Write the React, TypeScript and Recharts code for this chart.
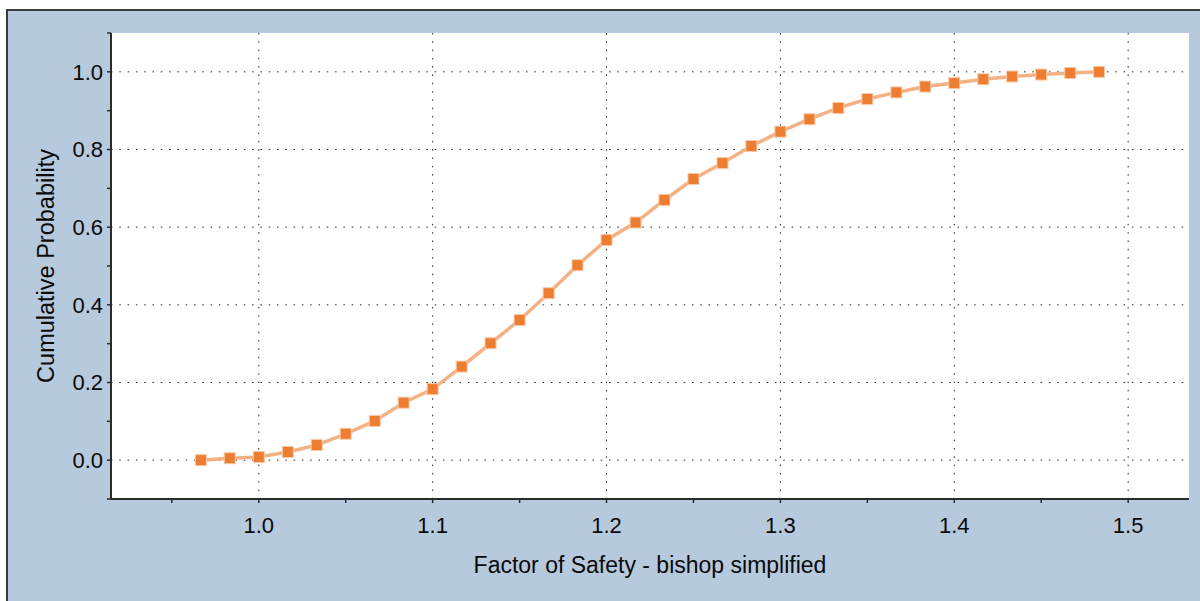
import { LineChart, Line, XAxis, YAxis, CartesianGrid } from 'recharts';

// factor of safety samples (every 1/60) and their cumulative probability
const fosValues = [
  0.9667, 0.9833, 1.0, 1.0167, 1.0333, 1.05, 1.0667, 1.0833,
  1.1, 1.1167, 1.1333, 1.15, 1.1667, 1.1833, 1.2, 1.2167,
  1.2333, 1.25, 1.2667, 1.2833, 1.3, 1.3167, 1.3333, 1.35,
  1.3667, 1.3833, 1.4, 1.4167, 1.4333, 1.45, 1.4667, 1.4833,
];
const cumProb = [
  0.0, 0.005, 0.008, 0.021, 0.039, 0.068, 0.101, 0.148,
  0.183, 0.241, 0.301, 0.361, 0.43, 0.502, 0.567, 0.612,
  0.67, 0.724, 0.765, 0.809, 0.846, 0.878, 0.907, 0.93,
  0.947, 0.962, 0.971, 0.981, 0.988, 0.993, 0.997, 1.0,
];

const xTicks = [0.95, 1.0, 1.05, 1.1, 1.15, 1.2, 1.25, 1.3, 1.35, 1.4, 1.45, 1.5];
const xGrid = [1.0, 1.1, 1.2, 1.3, 1.4, 1.5];
const yTicks = [-0.1, 0, 0.1, 0.2, 0.3, 0.4, 0.5, 0.6, 0.7, 0.8, 0.9, 1.0, 1.1];
const yGrid = [0, 0.2, 0.4, 0.6, 0.8, 1.0];

const data = fosValues.map((fos, i) => ({ fos, p: cumProb[i] }));

const FONT = '"Liberation Sans", Arial, sans-serif';
const AXIS = '#2b2b2b';
const TEXT = '#0a0a0a';
const TICK_SIZE = 22;

const fmtX = (v: number) => (Math.round(v * 100) % 10 === 0 ? v.toFixed(1) : '');
const fmtY = (v: number) => {
  const k = Math.round(v * 10);
  return k >= 0 && k % 2 === 0 ? v.toFixed(1) : '';
};

// only every other tick carries a label; minor ticks just get the tick line
function XTick(props: any) {
  const { x, y, payload } = props;
  const s = fmtX(payload.value);
  if (!s) return null;
  return (
    <text x={x} y={y} dy="0.71em" textAnchor="middle" fill={TEXT} fontSize={TICK_SIZE} fontFamily={FONT}>
      {s}
    </text>
  );
}

function YTick(props: any) {
  const { x, y, payload } = props;
  const s = fmtY(payload.value);
  if (!s) return null;
  return (
    <text x={x} y={y} dy="0.355em" textAnchor="end" fill={TEXT} fontSize={TICK_SIZE} fontFamily={FONT}>
      {s}
    </text>
  );
}

function SquareDot(props: any) {
  const { cx, cy, key } = props;
  if (cx == null || cy == null) return null;
  return <rect key={key} x={cx - 5.5} y={cy - 5.5} width={11} height={11} fill="#ed7d31" stroke="#f8c9a8" strokeWidth={1} />;
}

export default function App() {
  return (
    <div style={{ position: 'absolute', left: 0, top: 0, width: 1200, height: 601, background: '#fff', overflow: 'hidden', fontFamily: FONT }}>
      <div
        style={{
          position: 'absolute', left: 6, top: 9, right: 0, bottom: 0,
          background: '#b7c9dc', borderTop: '2px solid #3a3a3a', borderLeft: '2px solid #3a3a3a',
        }}
      />
      <div style={{ position: 'absolute', left: 0, top: 0 }}>
        <LineChart width={1200} height={601} data={data} margin={{ top: 33, right: 11, bottom: 0, left: 0 }}>
          <CartesianGrid
            fill="#ffffff"
            stroke="#222"
            strokeDasharray="1.5 6.8"
            horizontalValues={yGrid}
            verticalValues={xGrid}
          />
          <XAxis
            dataKey="fos"
            type="number"
            domain={[0.915, 1.535]}
            allowDataOverflow
            ticks={xTicks}
            interval={0}
            height={102}
            tickSize={4}
            tickMargin={14}
            axisLine={{ stroke: AXIS, strokeWidth: 2 }}
            tickLine={{ stroke: AXIS, strokeWidth: 1.5 }}
            tick={XTick}
            label={{ value: 'Factor of Safety - bishop simplified', position: 'insideBottom', offset: 28, fill: TEXT, fontSize: 23, fontFamily: FONT }}
          />
          <YAxis
            type="number"
            domain={[-0.1, 1.1]}
            allowDataOverflow
            ticks={yTicks}
            interval={0}
            width={111}
            tickSize={4}
            tickMargin={4}
            axisLine={{ stroke: AXIS, strokeWidth: 2 }}
            tickLine={{ stroke: AXIS, strokeWidth: 1.5 }}
            tick={YTick}
            label={{
              value: 'Cumulative Probability', angle: -90, position: 'insideLeft', offset: 46,
              fill: TEXT, fontSize: 23.5, fontFamily: FONT, style: { textAnchor: 'middle' },
            }}
          />
          <Line
            type="linear"
            dataKey="p"
            stroke="#f4b183"
            strokeWidth={3.5}
            dot={SquareDot}
            activeDot={false}
            isAnimationActive={false}
          />
        </LineChart>
      </div>
    </div>
  );
}
